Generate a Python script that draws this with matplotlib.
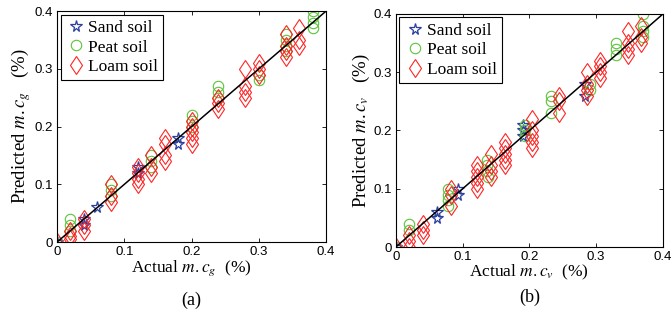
import numpy as np
import matplotlib
matplotlib.use('Agg')
import matplotlib.pyplot as plt

plt.rcParams['mathtext.fontset'] = 'stix'

# panel (a): gravimetric moisture content
sand_a_x = [0, 0.04, 0.04, 0.06, 0.12, 0.12, 0.18, 0.18]
sand_a_y = [0, 0.04, 0.03, 0.06, 0.12, 0.13, 0.17, 0.18]
peat_a_x = [0, 0.02, 0.02, 0.02, 0.08, 0.08, 0.08, 0.14, 0.14, 0.14,
            0.2, 0.2, 0.2, 0.24, 0.24, 0.24, 0.3, 0.3,
            0.34, 0.34, 0.34, 0.34, 0.38, 0.38, 0.38, 0.38]
peat_a_y = [0, 0.04, 0.03, 0.02, 0.1, 0.09, 0.08, 0.15, 0.14, 0.13,
            0.22, 0.21, 0.2, 0.27, 0.26, 0.25, 0.29, 0.28,
            0.36, 0.35, 0.34, 0.33, 0.4, 0.39, 0.38, 0.37]
loam_a_x = [0, 0.02, 0.02, 0.02, 0.04, 0.04, 0.04, 0.08, 0.08, 0.08,
            0.12, 0.12, 0.12, 0.12, 0.14, 0.14, 0.14,
            0.16, 0.16, 0.16, 0.16, 0.2, 0.2, 0.2, 0.2, 0.2,
            0.24, 0.24, 0.24, 0.28, 0.28, 0.28, 0.28, 0.3, 0.3, 0.3,
            0.34, 0.34, 0.34, 0.34, 0.36, 0.36, 0.36]
loam_a_y = [0, 0.02, 0.01, 0.005, 0.04, 0.03, 0.02, 0.1, 0.08, 0.07,
            0.13, 0.12, 0.11, 0.1, 0.15, 0.13, 0.12,
            0.18, 0.17, 0.15, 0.14, 0.21, 0.2, 0.19, 0.18, 0.17,
            0.25, 0.24, 0.23, 0.3, 0.27, 0.26, 0.25, 0.31, 0.3, 0.29,
            0.36, 0.34, 0.33, 0.32, 0.37, 0.35, 0.34]

# panel (b): volumetric moisture content
sand_b_x = [0, 0.062, 0.062, 0.093, 0.093, 0.19, 0.19, 0.19, 0.283, 0.283]
sand_b_y = [0, 0.06, 0.05, 0.1, 0.09, 0.21, 0.2, 0.19, 0.28, 0.26]
peat_b_x = [0, 0.019, 0.019, 0.078, 0.078, 0.078, 0.078,
            0.136, 0.136, 0.136, 0.138, 0.194, 0.194, 0.194,
            0.233, 0.233, 0.233, 0.29, 0.29, 0.33, 0.33, 0.33,
            0.37, 0.37, 0.37, 0.37]
peat_b_y = [0, 0.04, 0.03, 0.1, 0.09, 0.08, 0.07,
            0.15, 0.14, 0.13, 0.12, 0.21, 0.2, 0.19,
            0.26, 0.25, 0.23, 0.28, 0.27, 0.35, 0.34, 0.33,
            0.4, 0.38, 0.37, 0.36]
loam_b_x = [0, 0.02, 0.02, 0.02, 0.041, 0.041, 0.041, 0.082, 0.082, 0.082,
            0.122, 0.122, 0.122, 0.122, 0.122, 0.143, 0.143, 0.143, 0.143,
            0.163, 0.163, 0.163, 0.163, 0.163, 0.204, 0.204, 0.204, 0.204, 0.204,
            0.245, 0.245, 0.245, 0.286, 0.286, 0.286, 0.286,
            0.306, 0.306, 0.306, 0.306, 0.347, 0.347, 0.347, 0.347,
            0.367, 0.367, 0.367]
loam_b_y = [0, 0.02, 0.01, 0.0, 0.04, 0.03, 0.02, 0.1, 0.09, 0.07,
            0.14, 0.13, 0.12, 0.11, 0.1, 0.16, 0.14, 0.13, 0.12,
            0.18, 0.17, 0.16, 0.15, 0.14, 0.22, 0.2, 0.19, 0.18, 0.17,
            0.26, 0.25, 0.23, 0.3, 0.28, 0.27, 0.26,
            0.32, 0.31, 0.3, 0.29, 0.37, 0.35, 0.34, 0.33,
            0.38, 0.36, 0.35]

ticks = [0, 0.1, 0.2, 0.3, 0.4]
tick_labels = ['0', '0.1', '0.2', '0.3', '0.4']

blue = '#2c3e9e'
green = '#5cc43a'
red = '#ff2424'

fig = plt.figure(figsize=(6.71, 3.25), dpi=100)
ax1 = fig.add_axes([0.085, 0.255, 0.401, 0.711])
ax2 = fig.add_axes([0.590, 0.240, 0.398, 0.717])

panels = [
    (ax1, sand_a_x, sand_a_y, peat_a_x, peat_a_y, loam_a_x, loam_a_y, 'g', '(a)', -0.25),
    (ax2, sand_b_x, sand_b_y, peat_b_x, peat_b_y, loam_b_x, loam_b_y, 'v', '(b)', -0.215),
]

for ax, sx, sy, px, py, lx, ly, sub, cap, cap_y in panels:
    ax.plot(sx, sy, ls='none', marker='*', ms=8.5, mfc='none', mec=blue, mew=0.9,
            label='Sand soil')
    ax.plot(px, py, ls='none', marker='o', ms=7.5, mfc='none', mec=green, mew=0.8,
            label='Peat soil')
    ax.plot(lx, ly, ls='none', marker='d', ms=9.5, mfc='none', mec=red, mew=0.8,
            label='Loam soil')
    ax.plot([0, 0.4], [0, 0.4], color='black', lw=1.1)
    ax.set_xlim(0, 0.4)
    ax.set_ylim(0, 0.4)
    ax.set_xticks(ticks)
    ax.set_yticks(ticks)
    ax.set_xticklabels(tick_labels, family='Liberation Sans', fontsize=9.5)
    ax.set_yticklabels(tick_labels, family='Liberation Sans', fontsize=9.5)
    ax.tick_params(direction='in', top=True, right=True, length=3, width=0.6, pad=3)
    for s in ax.spines.values():
        s.set_linewidth(0.8)
    ax.set_xlabel('Actual $m.c_%s$  (%%)' % sub, family='Liberation Serif',
                  fontsize=12.5, labelpad=0)
    ax.set_ylabel('Predicted $m.c_%s$   (%%)' % sub, family='Liberation Serif',
                  fontsize=13.5, labelpad=1)
    leg = ax.legend(loc='upper left', prop={'family': 'Liberation Serif', 'size': 12.5},
                    handletextpad=0.1, handlelength=1.2, borderpad=0.3,
                    labelspacing=0.2, borderaxespad=0.2, fancybox=False,
                    framealpha=1, edgecolor='black')
    leg.get_frame().set_linewidth(0.8)
    ax.text(0.5, cap_y, cap, transform=ax.transAxes, ha='center', va='center',
            family='Liberation Serif', fontsize=13)

fig.savefig('out.png', dpi=100)
